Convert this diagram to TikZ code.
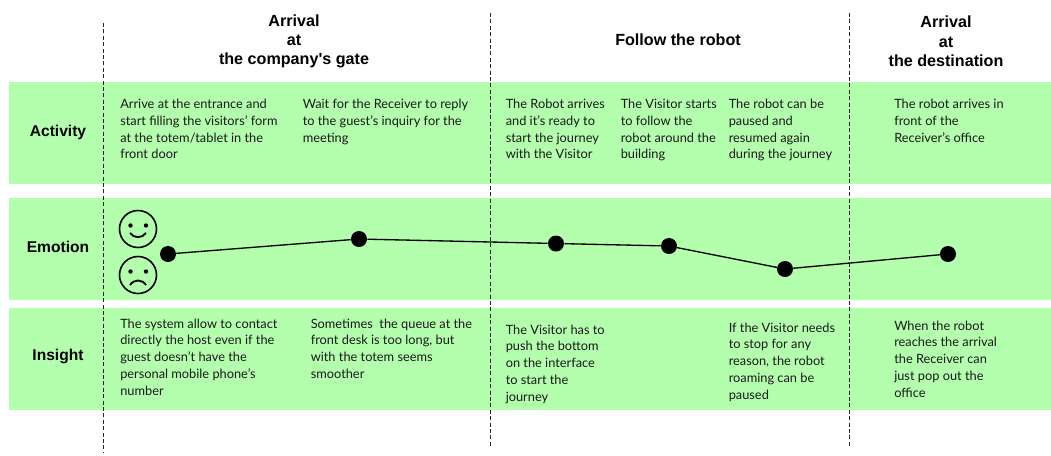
\documentclass[tikz,border=0pt]{standalone}
\usepackage{fontspec}
\setmainfont{Lato}
\newfontfamily\headfont{Liberation Sans}
\definecolor{bandgreen}{HTML}{B3FFAE}
\tikzset{
  band/.style={fill=bandgreen,draw=none},
  phase/.style={black!85,line width=0.9pt,dash pattern=on 3pt off 1.8pt},
  rowlabel/.style={anchor=center,inner sep=0.75pt,font=\headfont\fontsize{11.7}{13}\selectfont\bfseries},
  headlabel/.style={anchor=center,inner sep=0.75pt,align=center,font=\headfont\fontsize{12.1}{14.5}\selectfont\bfseries},
  cell/.style={anchor=north west,inner sep=0.75pt,align=left,text=black!90,font=\fontsize{9.6}{12.55}\selectfont},
  point/.style={circle,fill=black,inner sep=0pt,minimum size=12pt},
  face/.style={black,line width=1.2pt}
}

\begin{document}
\begin{tikzpicture}[x=0.75pt,y=0.75pt,yscale=-1,xscale=1]
\useasboundingbox (0,0) rectangle (1051,455);

%Bands
\fill [band] (9,82) rectangle (1051,184);
\fill [band] (9,198) rectangle (1051,300);
\fill [band] (9,308) rectangle (1051,410);

%Phase lines
\draw [phase] (103.5,23) -- (103.5,452);
\draw [phase] (490.5,13) -- (490.5,447);
\draw [phase] (849.5,13) -- (849.5,447);

%Smiling face
\draw [face] (138,229) circle (18.5);
\fill (130.5,225.5) circle (2.2);
\fill (146,225.5) circle (2.2);
\draw [face,line width=1.4pt] (130,233) .. controls (134,238.5) and (142,238.5) .. (146,233);
%Sad face
\draw [face] (138,275) circle (18.5);
\fill (130.5,271.5) circle (2.2);
\fill (146,271.5) circle (2.2);
\draw [face,line width=1.4pt] (130,285) .. controls (134,279) and (142,279) .. (146,285);

%Emotion curve
\node [point] (dotA) at (168,254) {};
\node [point] (dotB) at (359,239) {};
\node [point] (dotC) at (556,243.5) {};
\node [point] (dotD) at (669,246) {};
\node [point] (dotE) at (785,269) {};
\node [point] (dotF) at (948,254) {};
\draw [line width=1pt] (dotA) -- (dotB) -- (dotC) -- (dotD) -- (dotE) -- (dotF);

% Text Node
\node [headlabel] (headGate) at (294,41.5) {Arrival\\at\\the company's gate};
\node [headlabel] (headRobot) at (678,39.5) {Follow the robot};
\node [headlabel] (headDest) at (946,41.5) {Arrival\\at\\the destination};
% Text Node
\node [rowlabel] (rowActivity) at (58,132.5) {Activity};
\node [rowlabel] (rowEmotion) at (58,246.5) {Emotion};
\node [rowlabel] (rowInsight) at (58,356.5) {Insight};
% Text Node
\node [cell] (actA) at (119,98) {Arrive at the entrance and\\start filling the visitors' form\\at the totem/tablet in the\\front door};
\node [cell] (actB) at (301.5,98) {Wait for the Receiver to reply\\to the guest's inquiry for the\\meeting};
\node [cell] (actC) at (504.5,98) {The Robot arrives\\and it's ready to\\start the journey\\with the Visitor};
\node [cell] (actD) at (619.5,98) {The Visitor starts\\to follow the\\robot around the\\building};
\node [cell] (actE) at (727.5,98) {The robot can be\\paused and\\resumed again\\during the journey};
\node [cell] (actF) at (893,98) {The robot arrives in\\front of the\\Receiver's office};
% Text Node
\node [cell] (insA) at (119,317.5) {The system allow to contact\\directly the host even if the\\guest doesn't have the\\personal mobile phone's\\number};
\node [cell] (insB) at (309.5,317.5) {Sometimes\ \ the queue at the\\front desk is too long, but\\with the totem seems\\smoother};
\node [cell] (insC) at (504.5,323.5) {The Visitor has to\\push the bottom\\on the interface\\to start the\\journey};
\node [cell] (insD) at (727.5,321.5) {If the Visitor needs\\to stop for any\\reason, the robot\\roaming can be\\paused};
\node [cell] (insE) at (893,319.5) {When the robot\\reaches the arrival\\the Receiver can\\just pop out the\\office};

\end{tikzpicture}
\end{document}
